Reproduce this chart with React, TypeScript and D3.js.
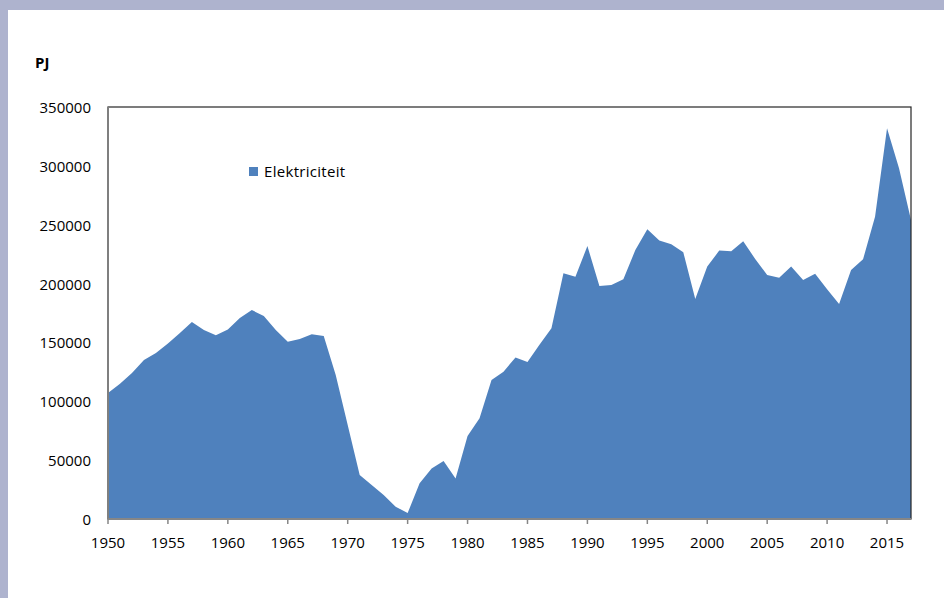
import React, { useRef, useEffect } from 'react';
import * as d3 from 'd3';

const years = d3.range(1950, 2018);
const elektriciteit = [
  107000, 115000, 124000, 135000, 141000, 149000, 158000, 167300, 160500, 156000,
  161000, 170700, 177500, 172500, 160500, 150600, 152900, 156900, 155500, 122300,
  79900, 37400, 28900, 20400, 10500, 5000, 30300, 43000, 49300, 34500,
  70500, 85500, 118000, 125100, 137300, 133300, 148000, 162000, 208700, 205800,
  231900, 197900, 198800, 203600, 228500, 246100, 236500, 233400, 226600, 186900,
  214400, 228000, 227400, 235900, 220900, 207300, 205000, 214400, 203000, 208400,
  195100, 182600, 211500, 220600, 256800, 331900, 297900, 254000,
];
const yTicks = [0, 50000, 100000, 150000, 200000, 250000, 300000, 350000];
const xTicks = [1950, 1955, 1960, 1965, 1970, 1975, 1980, 1985, 1990, 1995, 2000, 2005, 2010, 2015];
const seriesName = 'Elektriciteit';
const unit = 'PJ';

const App = () => {
  const svgRef = useRef<SVGSVGElement>(null);

  useEffect(() => {
    const width = 944;
    const height = 598;
    const left = 108;
    const right = 911;
    const top = 107;
    const bottom = 519;
    const font = "'Open Sans', sans-serif";

    const svg = d3.select(svgRef.current);
    svg.selectAll('*').remove();
    svg.attr('width', width).attr('height', height);

    // frame of the page
    svg.append('rect').attr('width', width).attr('height', height).attr('fill', '#aeb3ce');
    svg.append('rect').attr('x', 8).attr('y', 10).attr('width', width - 8).attr('height', height - 10).attr('fill', '#ffffff');

    const x = d3.scaleLinear().domain([1950, 2017]).range([left, right]);
    const y = d3.scaleLinear().domain([0, 350000]).range([bottom, top]);

    const data = years.map((yr, i) => ({ year: yr, value: elektriciteit[i] }));

    const area = d3
      .area<{ year: number; value: number }>()
      .x((d) => x(d.year))
      .y0(y(0))
      .y1((d) => y(d.value));

    svg.append('path').datum(data).attr('fill', '#4f81bd').attr('d', area);

    // plot border
    svg
      .append('rect')
      .attr('x', left)
      .attr('y', top)
      .attr('width', right - left)
      .attr('height', bottom - top)
      .attr('fill', 'none')
      .attr('stroke', '#262626')
      .attr('stroke-width', 1.2);

    // axes lines
    svg.append('line').attr('x1', left).attr('x2', left).attr('y1', top).attr('y2', bottom)
      .attr('stroke', '#7f7f7f').attr('stroke-width', 2);
    svg.append('line').attr('x1', left).attr('x2', right).attr('y1', bottom).attr('y2', bottom)
      .attr('stroke', '#868686').attr('stroke-width', 2);

    // x ticks
    const xg = svg.append('g');
    xTicks.forEach((t) => {
      xg.append('line').attr('x1', x(t)).attr('x2', x(t)).attr('y1', bottom).attr('y2', bottom + 5)
        .attr('stroke', '#868686').attr('stroke-width', 1.5);
      xg.append('text')
        .attr('x', x(t))
        .attr('y', bottom + 29)
        .attr('text-anchor', 'middle')
        .attr('font-family', font)
        .attr('font-size', 15)
        .attr('fill', '#000')
        .text(t);
    });

    // y labels
    const yg = svg.append('g');
    yTicks.forEach((t) => {
      yg.append('text')
        .attr('x', 91)
        .attr('y', y(t) + 6)
        .attr('text-anchor', 'end')
        .attr('font-family', font)
        .attr('font-size', 15)
        .attr('fill', '#000')
        .text(t);
    });

    svg
      .append('text')
      .attr('x', 35)
      .attr('y', 68)
      .attr('font-family', font)
      .attr('font-size', 15)
      .attr('font-weight', 'bold')
      .attr('fill', '#000')
      .text(unit);

    // legend
    svg.append('rect').attr('x', 249).attr('y', 167).attr('width', 9).attr('height', 9).attr('fill', '#4f81bd');
    svg
      .append('text')
      .attr('x', 264)
      .attr('y', 177)
      .attr('font-family', font)
      .attr('font-size', 15)
      .attr('letter-spacing', 0.3)
      .attr('fill', '#000')
      .text(seriesName);
  }, []);

  return <svg ref={svgRef} style={{ position: 'absolute', left: 0, top: 0, display: 'block' }} />;
};

export default App;
